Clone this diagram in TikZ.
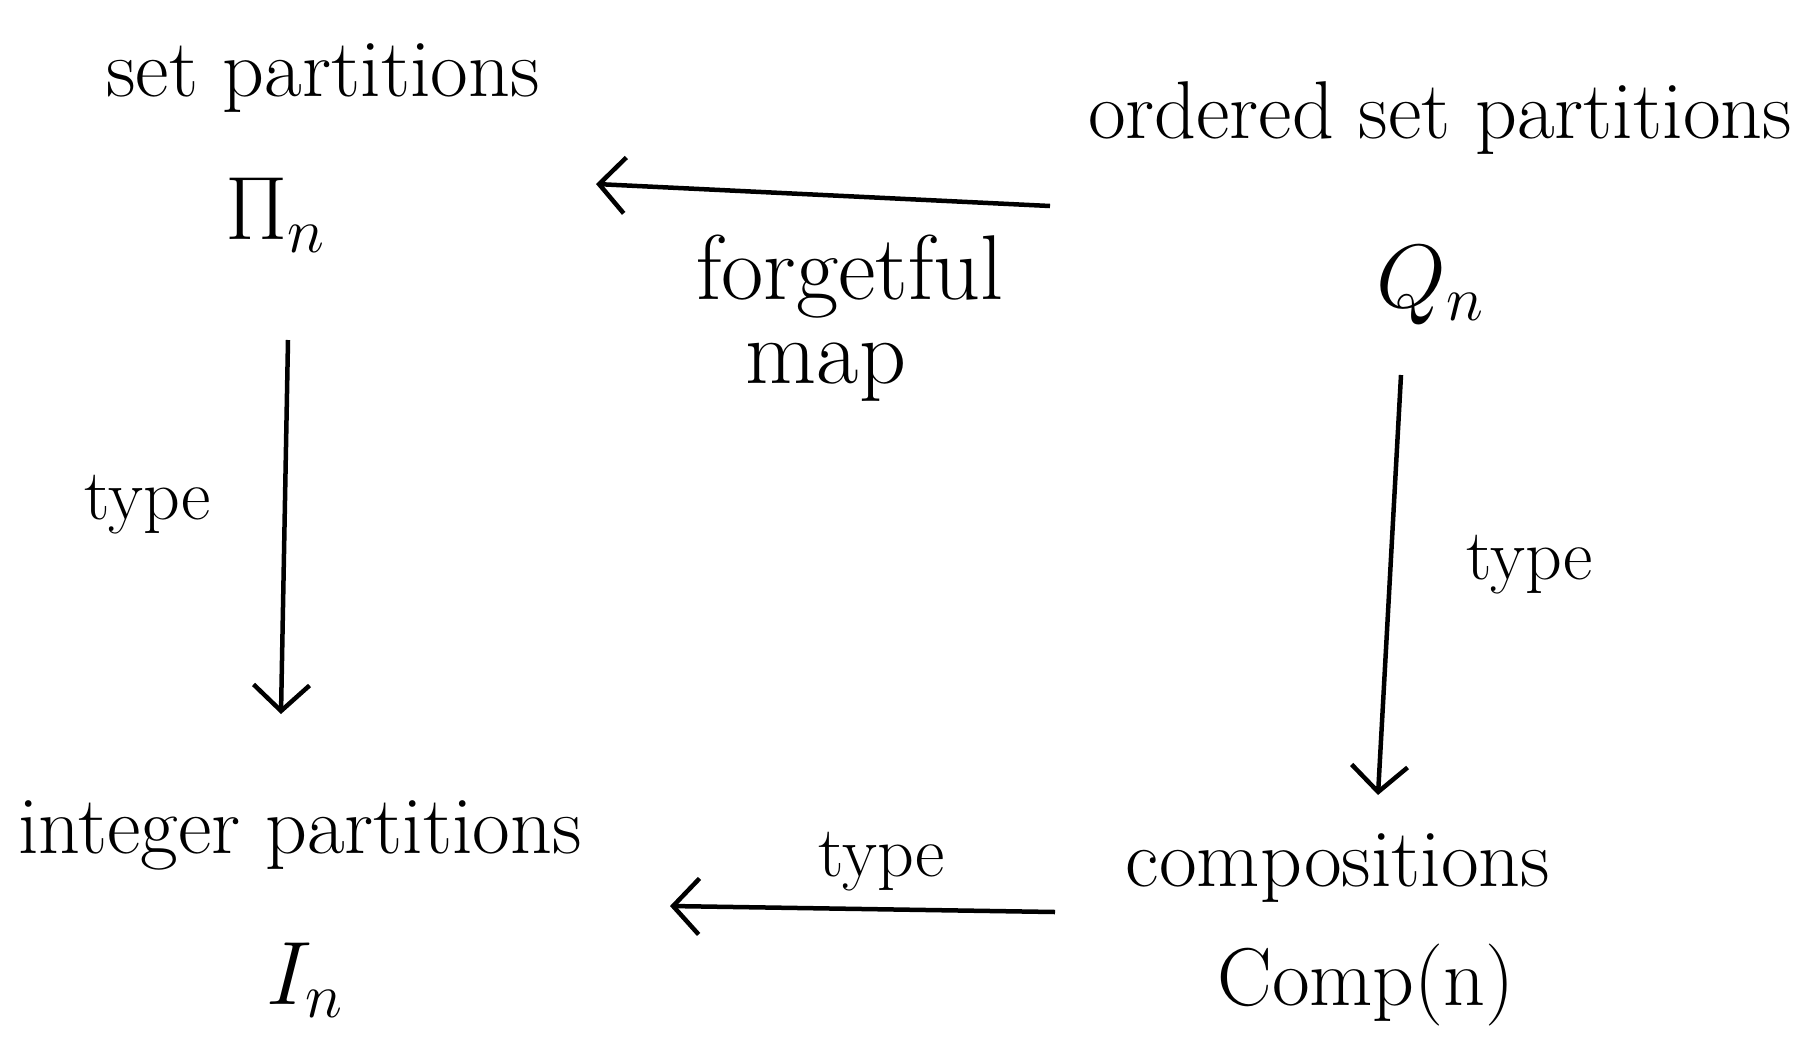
\documentclass[tikz,border=0pt]{standalone}
\usepackage{fix-cm}
\usetikzlibrary{arrows.meta}
\begin{document}
\begin{tikzpicture}[x=1pt,y=-1pt,
  lbl/.style={font=\fontsize{82}{86}\selectfont, inner sep=0pt},
  tlbl/.style={font=\fontsize{72}{76}\selectfont, inner sep=0pt},
  sym/.style={font=\fontsize{90}{94}\selectfont, inner sep=0pt},
  arr/.style={line width=4.5pt, -{Straight Barb[length=26pt,width=56pt,line width=4.5pt]}}]
\useasboundingbox (0,0) rectangle (1807,1037);
\node[lbl] (sp) at (323,78) {set partitions};
\node[sym] (Pi) at (275,215) {$\Pi_n$};
\node[lbl] (osp) at (1440,118) {ordered set partitions};
\node[font=\fontsize{92}{96}\selectfont, inner sep=0pt] (fm1) at (850,277) {forgetful};
\node[font=\fontsize{92}{96}\selectfont, inner sep=0pt] (fm2) at (826,372) {map};
\node[sym] (Q) at (1430,285) {$Q_n$};
\node[tlbl] (tl) at (148,505) {type};
\node[tlbl] (tr) at (1530,565) {type};
\node[lbl] (ip) at (300,835) {integer partitions};
\node[sym] (I) at (305,980) {$I_n$};
\node[lbl] (cp) at (1338,868) {compositions};
\node[lbl] (C) at (1366,985) {Comp(n)};
\node[tlbl] (tb) at (882,862) {type};
\coordinate (a1s) at (1050,206);
\coordinate (a1e) at (596,184);
\coordinate (a2s) at (288,340);
\coordinate (a2e) at (281,714);
\coordinate (a3s) at (1401,375);
\coordinate (a3e) at (1378,795);
\coordinate (a4s) at (1055,912);
\coordinate (a4e) at (670,906);
\draw[arr] (a1s) -- (a1e);
\draw[arr] (a2s) -- (a2e);
\draw[arr] (a3s) -- (a3e);
\draw[arr] (a4s) -- (a4e);
\end{tikzpicture}
\end{document}
